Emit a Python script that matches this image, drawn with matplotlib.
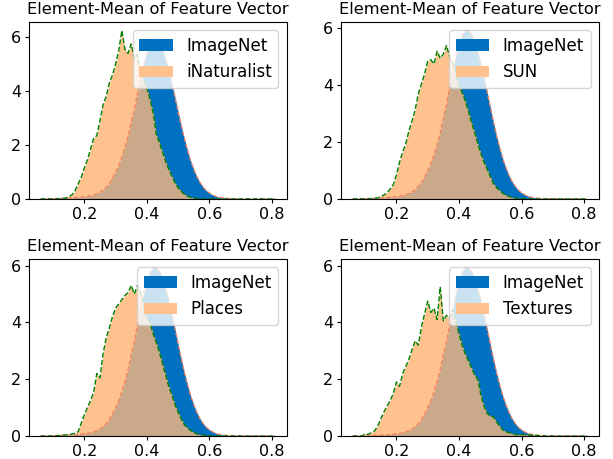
import numpy as np
import matplotlib
matplotlib.use("Agg")
import matplotlib.pyplot as plt

# shared bin centres (element-mean value)
x_vals = np.round(np.arange(0.06, 0.8101, 0.01), 2)

# ImageNet density (same in every panel)
imagenet = [0.005, 0.008, 0.01, 0.012, 0.015, 0.018, 0.02, 0.025, 0.03, 0.035,
            0.04, 0.045, 0.055, 0.065, 0.08, 0.10, 0.12, 0.15, 0.19, 0.25,
            0.33, 0.44, 0.57, 0.78, 0.99, 1.24, 1.55, 1.91, 2.32, 2.86,
            3.31, 3.91, 4.49, 5.02, 5.45, 5.77, 5.93, 5.93, 5.81, 5.56,
            5.21, 4.78, 4.29, 3.77, 3.24, 2.72, 2.24, 1.81, 1.42, 1.10,
            0.83, 0.61, 0.44, 0.31, 0.22, 0.15, 0.10, 0.065, 0.045, 0.03,
            0.02, 0.015, 0.01, 0.008, 0.006, 0.005, 0.004, 0.003, 0.003, 0.002,
            0.002, 0.002, 0.001, 0.001, 0.001, 0.001]

# OOD densities, 0.06 .. 0.81
inaturalist = [0, 0, 0, 0, 0, 0, 0.01, 0.02, 0.03, 0.08,
               0.15, 0.30, 0.55, 0.80, 1.15, 1.45, 1.85, 2.25, 2.35, 2.90,
               3.50, 3.80, 4.30, 4.60, 5.00, 5.50, 6.25, 5.55, 5.40, 5.75,
               5.20, 5.35, 4.60, 4.45, 4.10, 3.70, 3.20, 2.40, 2.10, 1.75,
               1.40, 1.10, 0.85, 0.60, 0.42, 0.28, 0.18, 0.10, 0.06, 0.03,
               0.02, 0.01, 0, 0, 0, 0, 0, 0, 0, 0,
               0, 0, 0, 0, 0, 0, 0, 0, 0, 0,
               0, 0, 0, 0, 0, 0]
sun = [0, 0, 0, 0, 0, 0, 0.01, 0.02, 0.04, 0.08,
       0.14, 0.22, 0.35, 0.50, 0.85, 1.30, 1.65, 1.95, 2.40, 2.75,
       3.15, 3.70, 4.05, 4.40, 4.85, 4.90, 4.75, 5.20, 4.95, 5.10,
       5.40, 5.00, 4.80, 4.45, 4.00, 3.75, 3.45, 3.10, 2.70, 2.35,
       1.95, 1.60, 1.30, 1.05, 0.80, 0.55, 0.40, 0.30, 0.20, 0.13,
       0.09, 0.05, 0.03, 0.02, 0.01, 0, 0, 0, 0, 0,
       0, 0, 0, 0, 0, 0, 0, 0, 0, 0,
       0, 0, 0, 0, 0, 0]
places = [0, 0, 0, 0, 0, 0.01, 0.02, 0.03, 0.04, 0.05,
          0.07, 0.10, 0.15, 0.45, 0.75, 1.00, 1.25, 1.55, 2.20, 2.05,
          2.90, 3.45, 3.80, 4.20, 4.50, 4.65, 4.80, 4.95, 5.05, 5.30,
          5.00, 5.30, 5.05, 4.60, 4.15, 4.00, 3.60, 3.30, 2.95, 2.55,
          2.15, 1.75, 1.45, 1.10, 0.85, 0.60, 0.40, 0.28, 0.20, 0.12,
          0.08, 0.05, 0.03, 0.02, 0.01, 0, 0, 0, 0, 0,
          0, 0, 0, 0, 0, 0, 0, 0, 0, 0,
          0, 0, 0, 0, 0, 0]
textures = [0, 0, 0, 0, 0.08, 0.06, 0.12, 0.18, 0.35, 0.60,
            0.85, 1.05, 1.25, 1.50, 1.90, 1.75, 2.20, 2.45, 2.70, 3.05,
            3.35, 3.20, 3.85, 4.30, 4.75, 4.35, 4.50, 4.10, 5.25, 4.05,
            4.25, 4.15, 4.45, 4.00, 3.60, 3.20, 2.90, 2.65, 2.40, 2.15,
            2.00, 1.45, 1.05, 0.80, 0.70, 0.68, 0.50, 0.35, 0.22, 0.15,
            0.12, 0.09, 0.06, 0.04, 0.05, 0.05, 0.04, 0.03, 0.03, 0.02,
            0.01, 0.01, 0, 0, 0, 0, 0, 0, 0, 0,
            0, 0, 0, 0, 0, 0]

ood_names = ["iNaturalist", "SUN", "Places", "Textures"]
ood_data = [inaturalist, sun, places, textures]

fig, axes = plt.subplots(2, 2, figsize=(6.13, 4.59), dpi=100)
plt.subplots_adjust(left=0.047, right=0.977, top=0.952, bottom=0.05,
                    wspace=0.21, hspace=0.34)

id_arr = np.array(imagenet)
for ax, name, vals in zip(axes.flat, ood_names, ood_data):
    ood_arr = np.array(vals)
    ax.fill_between(x_vals, id_arr, color="#0070c0", lw=0, label="ImageNet")
    ax.fill_between(x_vals, ood_arr, color="#ffc28e", lw=0, label=name)
    ax.fill_between(x_vals, np.minimum(id_arr, ood_arr), color="#c9a98a", lw=0)
    ax.plot(x_vals, id_arr, color="#f08060", ls="--", lw=0.9)
    ax.plot(x_vals, ood_arr, color="green", ls="--", lw=1.0)
    ax.set_ylim(bottom=0)
    ax.set_title("Element-Mean of Feature Vector", fontsize=11.7)
    ax.tick_params(labelsize=11.5, length=3, pad=2.5)
    ax.legend(loc="upper right", fontsize=12)

plt.savefig("out.png")
